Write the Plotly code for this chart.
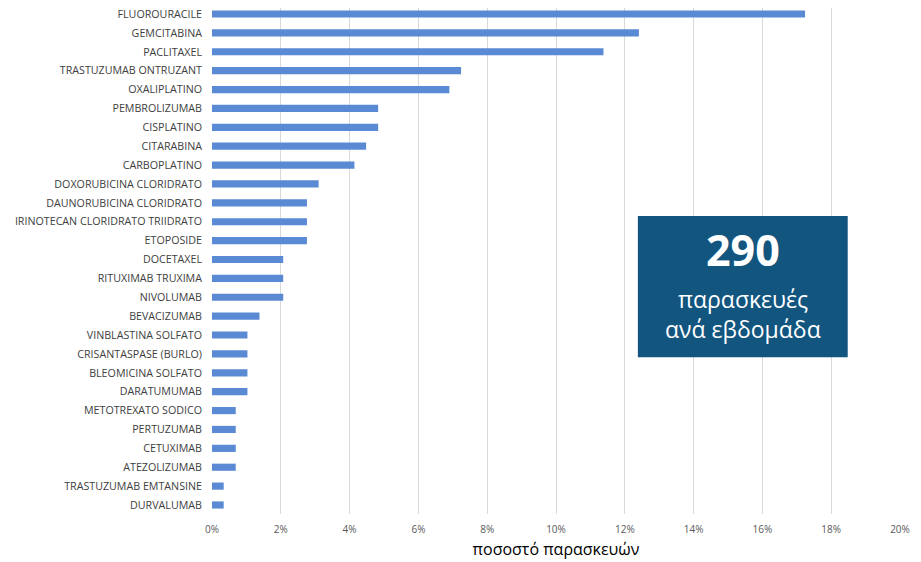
import plotly.graph_objects as go

drugs = ["FLUOROURACILE", "GEMCITABINA", "PACLITAXEL", "TRASTUZUMAB ONTRUZANT", "OXALIPLATINO",
         "PEMBROLIZUMAB", "CISPLATINO", "CITARABINA", "CARBOPLATINO", "DOXORUBICINA CLORIDRATO",
         "DAUNORUBICINA CLORIDRATO", "IRINOTECAN CLORIDRATO TRIIDRATO", "ETOPOSIDE", "DOCETAXEL",
         "RITUXIMAB TRUXIMA", "NIVOLUMAB", "BEVACIZUMAB", "VINBLASTINA SOLFATO",
         "CRISANTASPASE (BURLO)", "BLEOMICINA SOLFATO", "DARATUMUMAB", "METOTREXATO SODICO",
         "PERTUZUMAB", "CETUXIMAB", "ATEZOLIZUMAB", "TRASTUZUMAB EMTANSINE", "DURVALUMAB"]
share = [0.1724, 0.1241, 0.1138, 0.0724, 0.0690, 0.0483, 0.0483, 0.0448, 0.0414, 0.0310,
         0.0276, 0.0276, 0.0276, 0.0207, 0.0207, 0.0207, 0.0138, 0.0103, 0.0103, 0.0103,
         0.0103, 0.0069, 0.0069, 0.0069, 0.0069, 0.0034, 0.0034]
xticks = [0, 0.02, 0.04, 0.06, 0.08, 0.10, 0.12, 0.14, 0.16, 0.18, 0.20]
xticklabels = ["0%", "2%", "4%", "6%", "8%", "10%", "12%", "14%", "16%", "18%", "20%"]

fig = go.Figure(go.Bar(
    x=share, y=drugs, orientation="h",
    marker=dict(color="#5A8AD4", line=dict(width=0)),
))

fig.update_layout(
    width=913, height=554,
    margin=dict(l=204, r=21, t=0, b=48),
    paper_bgcolor="white", plot_bgcolor="white",
    font=dict(family="Open Sans", color="#595959", size=10),
    bargap=0.62,
    showlegend=False,
    xaxis=dict(range=[0, 0.20], tickvals=xticks, ticktext=xticklabels,
               showgrid=True, gridcolor="#D9D9D9", gridwidth=1, zeroline=False,
               showline=False, ticks="", ticklabelstandoff=8,
               tickfont=dict(size=10, color="#595959"),
               title=dict(text="ποσοστό παρασκευών", font=dict(size=16, color="#000000"),
                          standoff=8)),
    yaxis=dict(range=[26.477, -0.318], showgrid=False, showline=False, ticks="",
               ticklabelstandoff=9, tickfont=dict(size=10.7, color="#404040")),
)

fig.add_shape(type="rect", xref="paper", yref="paper",
              x0=0.619, x1=0.924, y0=0.310, y1=0.589,
              fillcolor="#12557F", line=dict(width=0), layer="above")
fig.add_annotation(xref="paper", yref="paper", x=0.772, y=0.522, text="<b>290</b>",
                   xanchor="center", yanchor="middle", showarrow=False,
                   font=dict(size=43, color="white", family="Open Sans"))
fig.add_annotation(xref="paper", yref="paper", x=0.772, y=0.425, text="παρασκευές",
                   xanchor="center", yanchor="middle", showarrow=False,
                   font=dict(size=23, color="white", family="Open Sans"))
fig.add_annotation(xref="paper", yref="paper", x=0.772, y=0.366, text="ανά εβδομάδα",
                   xanchor="center", yanchor="middle", showarrow=False,
                   font=dict(size=23, color="white", family="Open Sans"))

fig.write_html("out.html")
